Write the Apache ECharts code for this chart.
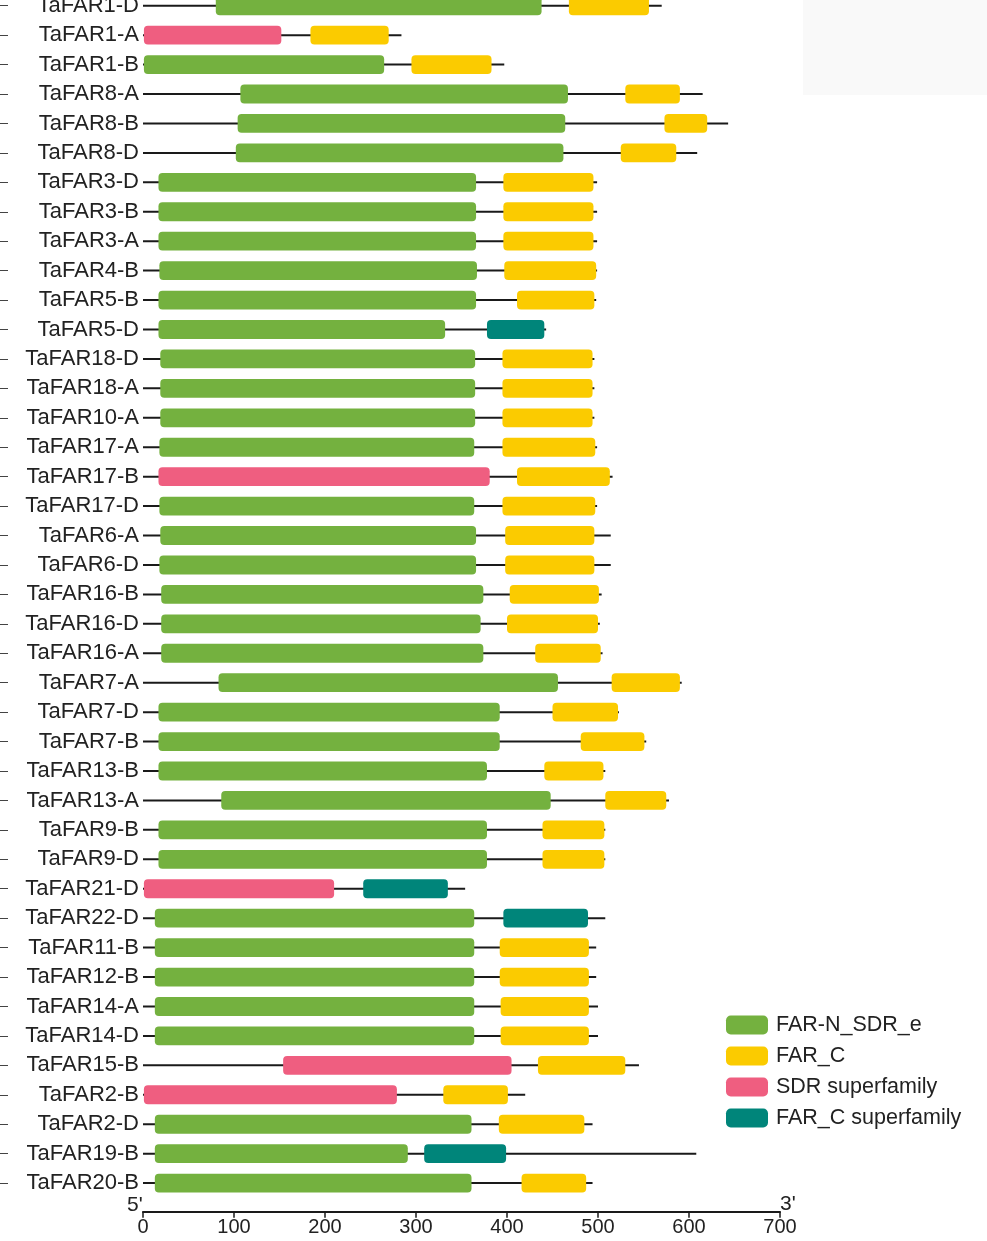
<!DOCTYPE html>
<html>
<head>
<meta charset="utf-8">
<script src="https://cdn.jsdelivr.net/npm/echarts@6/dist/echarts.min.js"></script>
<style>
html, body { margin: 0; padding: 0; background: #fff; overflow: hidden; }
/* the figure is cropped at the top: shift the canvas up a little */
#chart { width: 987px; height: 1250px; margin-top: -9px; }
</style>
</head>
<body>
<div id="chart"></div>
<script>
// gene order, top to bottom
const genes = [
    'TaFAR1-D', 'TaFAR1-A', 'TaFAR1-B', 'TaFAR8-A', 'TaFAR8-B', 'TaFAR8-D',
    'TaFAR3-D', 'TaFAR3-B', 'TaFAR3-A', 'TaFAR4-B', 'TaFAR5-B', 'TaFAR5-D',
    'TaFAR18-D', 'TaFAR18-A', 'TaFAR10-A', 'TaFAR17-A', 'TaFAR17-B', 'TaFAR17-D',
    'TaFAR6-A', 'TaFAR6-D', 'TaFAR16-B', 'TaFAR16-D', 'TaFAR16-A',
    'TaFAR7-A', 'TaFAR7-D', 'TaFAR7-B', 'TaFAR13-B', 'TaFAR13-A',
    'TaFAR9-B', 'TaFAR9-D', 'TaFAR21-D', 'TaFAR22-D', 'TaFAR11-B', 'TaFAR12-B',
    'TaFAR14-A', 'TaFAR14-D', 'TaFAR15-B', 'TaFAR2-B', 'TaFAR2-D', 'TaFAR19-B', 'TaFAR20-B'
];

// protein length (aa), same order as genes
const proteinLength = [
    570, 284, 397, 615, 643, 609,
    499, 499, 499, 499, 498, 443,
    496, 496, 496, 499, 516, 499,
    514, 514, 504, 502, 505,
    592, 523, 553, 508, 578,
    508, 508, 354, 508, 498, 498,
    500, 500, 545, 420, 494, 608, 494
];

// domains: [gene, start, end]
const farNSdrE = [
    ['TaFAR1-D', 80, 438], ['TaFAR1-B', 1, 265], ['TaFAR8-A', 107, 467],
    ['TaFAR8-B', 104, 464], ['TaFAR8-D', 102, 462], ['TaFAR3-D', 17, 366],
    ['TaFAR3-B', 17, 366], ['TaFAR3-A', 17, 366], ['TaFAR4-B', 18, 367],
    ['TaFAR5-B', 17, 366], ['TaFAR5-D', 17, 332], ['TaFAR18-D', 19, 365],
    ['TaFAR18-A', 19, 365], ['TaFAR10-A', 19, 365], ['TaFAR17-A', 18, 364],
    ['TaFAR17-D', 18, 364], ['TaFAR6-A', 19, 366], ['TaFAR6-D', 18, 366],
    ['TaFAR16-B', 20, 374], ['TaFAR16-D', 20, 371], ['TaFAR16-A', 20, 374],
    ['TaFAR7-A', 83, 456], ['TaFAR7-D', 17, 392], ['TaFAR7-B', 17, 392],
    ['TaFAR13-B', 17, 378], ['TaFAR13-A', 86, 448], ['TaFAR9-B', 17, 378],
    ['TaFAR9-D', 17, 378], ['TaFAR22-D', 13, 364], ['TaFAR11-B', 13, 364],
    ['TaFAR12-B', 13, 364], ['TaFAR14-A', 13, 364], ['TaFAR14-D', 13, 364],
    ['TaFAR2-D', 13, 361], ['TaFAR19-B', 13, 291], ['TaFAR20-B', 13, 361]
];
const farC = [
    ['TaFAR1-D', 468, 556], ['TaFAR1-A', 184, 270], ['TaFAR1-B', 295, 383],
    ['TaFAR8-A', 530, 590], ['TaFAR8-B', 573, 620], ['TaFAR8-D', 525, 586],
    ['TaFAR3-D', 396, 495], ['TaFAR3-B', 396, 495], ['TaFAR3-A', 396, 495],
    ['TaFAR4-B', 397, 498], ['TaFAR5-B', 411, 496], ['TaFAR18-D', 395, 494],
    ['TaFAR18-A', 395, 494], ['TaFAR10-A', 395, 494], ['TaFAR17-A', 395, 497],
    ['TaFAR17-B', 411, 513], ['TaFAR17-D', 395, 497], ['TaFAR6-A', 398, 496],
    ['TaFAR6-D', 398, 496], ['TaFAR16-B', 403, 501], ['TaFAR16-D', 400, 500],
    ['TaFAR16-A', 431, 503], ['TaFAR7-A', 515, 590], ['TaFAR7-D', 450, 522],
    ['TaFAR7-B', 481, 551], ['TaFAR13-B', 441, 506], ['TaFAR13-A', 508, 575],
    ['TaFAR9-B', 439, 507], ['TaFAR9-D', 439, 507], ['TaFAR11-B', 392, 490],
    ['TaFAR12-B', 392, 490], ['TaFAR14-A', 393, 490], ['TaFAR14-D', 393, 490],
    ['TaFAR15-B', 434, 530], ['TaFAR2-B', 330, 401], ['TaFAR2-D', 391, 485],
    ['TaFAR20-B', 416, 487]
];
const sdrSuperfamily = [
    ['TaFAR1-A', 1, 152], ['TaFAR17-B', 17, 381], ['TaFAR21-D', 1, 210],
    ['TaFAR15-B', 154, 405], ['TaFAR2-B', 1, 279]
];
const farCSuperfamily = [
    ['TaFAR5-D', 378, 441], ['TaFAR21-D', 242, 335], ['TaFAR22-D', 396, 489],
    ['TaFAR19-B', 309, 399]
];

const xTicks = [0, 100, 200, 300, 400, 500, 600, 700];

const chartDom = document.getElementById('chart');
const myChart = echarts.init(chartDom);

const colors = {
    farN: '#74B13F',
    farC: '#FBCB00',
    sdr: '#EF5E80',
    farCSup: '#00857A',
    line: '#1a1a1a',
    text: '#222'
};

const toRows = list => list.map(d => [genes.indexOf(d[0]), d[1], d[2]]);

function renderDomain(params, api) {
    const row = api.value(0);
    const p0 = api.coord([api.value(1), row]);
    const p1 = api.coord([api.value(2), row]);
    const h = api.size([0, 1])[1] * 0.64;
    return {
        type: 'rect',
        shape: { x: p0[0], y: p0[1] - h / 2, width: p1[0] - p0[0], height: h, r: 4 },
        style: { fill: api.visual('color') }
    };
}

function renderBackbone(params, api) {
    const row = api.value(0);
    const p0 = api.coord([0, row]);
    const p1 = api.coord([api.value(1), row]);
    return {
        type: 'line',
        shape: { x1: p0[0], y1: p0[1], x2: p1[0], y2: p1[1] },
        style: { stroke: colors.line, lineWidth: 2 }
    };
}

function domainSeries(name, list, color) {
    return {
        name: name,
        type: 'custom',
        renderItem: renderDomain,
        itemStyle: { color: color },
        encode: { x: [1, 2], y: 0 },
        data: toRows(list),
        z: 3
    };
}

const option = {
    animation: false,
    backgroundColor: '#fff',
    textStyle: { fontFamily: 'Liberation Sans' },
    grid: { left: 143, right: 207, top: 0, bottom: 43.2 },
    graphic: [
        { type: 'rect', left: 803, top: 0, shape: { width: 184, height: 104 }, style: { fill: '#f9f9f9' }, z: -1 },
        { type: 'text', left: 127, top: 1204, style: { text: "5'", fontSize: 21, fill: colors.text, fontFamily: 'Liberation Sans' } },
        { type: 'text', left: 780, top: 1203, style: { text: "3'", fontSize: 21, fill: colors.text, fontFamily: 'Liberation Sans' } }
    ],
    legend: {
        orient: 'vertical',
        left: 721,
        top: 1018,
        itemWidth: 42,
        itemHeight: 19,
        itemGap: 9,
        icon: 'roundRect',
        textStyle: { fontSize: 21.5, color: colors.text, fontFamily: 'Liberation Sans', padding: [0, 0, 0, 3] },
        data: ['FAR-N_SDR_e', 'FAR_C', 'SDR superfamily', 'FAR_C superfamily']
    },
    xAxis: {
        type: 'value',
        min: 0,
        max: 700,
        interval: 100,
        offset: 14,
        axisLine: { show: true, lineStyle: { color: colors.line, width: 2 } },
        axisTick: { show: true, length: 6, lineStyle: { color: colors.line, width: 1.5 } },
        axisLabel: {
            color: colors.text,
            fontSize: 20,
            margin: 6,
            formatter: v => (xTicks.indexOf(v) >= 0 ? String(v) : '')
        },
        splitLine: { show: false }
    },
    yAxis: [
        {
            type: 'category',
            data: genes,
            inverse: true,
            axisLine: { show: false },
            axisTick: { show: false },
            axisLabel: { color: colors.text, fontSize: 22, margin: 4, interval: 0 }
        },
        {
            // stub ticks at the far left edge
            type: 'category',
            data: genes,
            inverse: true,
            position: 'left',
            offset: 135,
            axisLine: { show: false },
            axisTick: { show: true, length: 8, alignWithLabel: true, interval: 0, lineStyle: { color: '#444', width: 1 } },
            axisLabel: { show: false }
        }
    ],
    series: [
        {
            name: 'protein',
            type: 'custom',
            renderItem: renderBackbone,
            encode: { x: 1, y: 0 },
            data: proteinLength.map((len, i) => [i, len]),
            z: 1
        },
        domainSeries('FAR-N_SDR_e', farNSdrE, colors.farN),
        domainSeries('FAR_C', farC, colors.farC),
        domainSeries('SDR superfamily', sdrSuperfamily, colors.sdr),
        domainSeries('FAR_C superfamily', farCSuperfamily, colors.farCSup)
    ]
};

myChart.setOption(option);
window.addEventListener('resize', () => myChart.resize());
</script>
</body>
</html>
